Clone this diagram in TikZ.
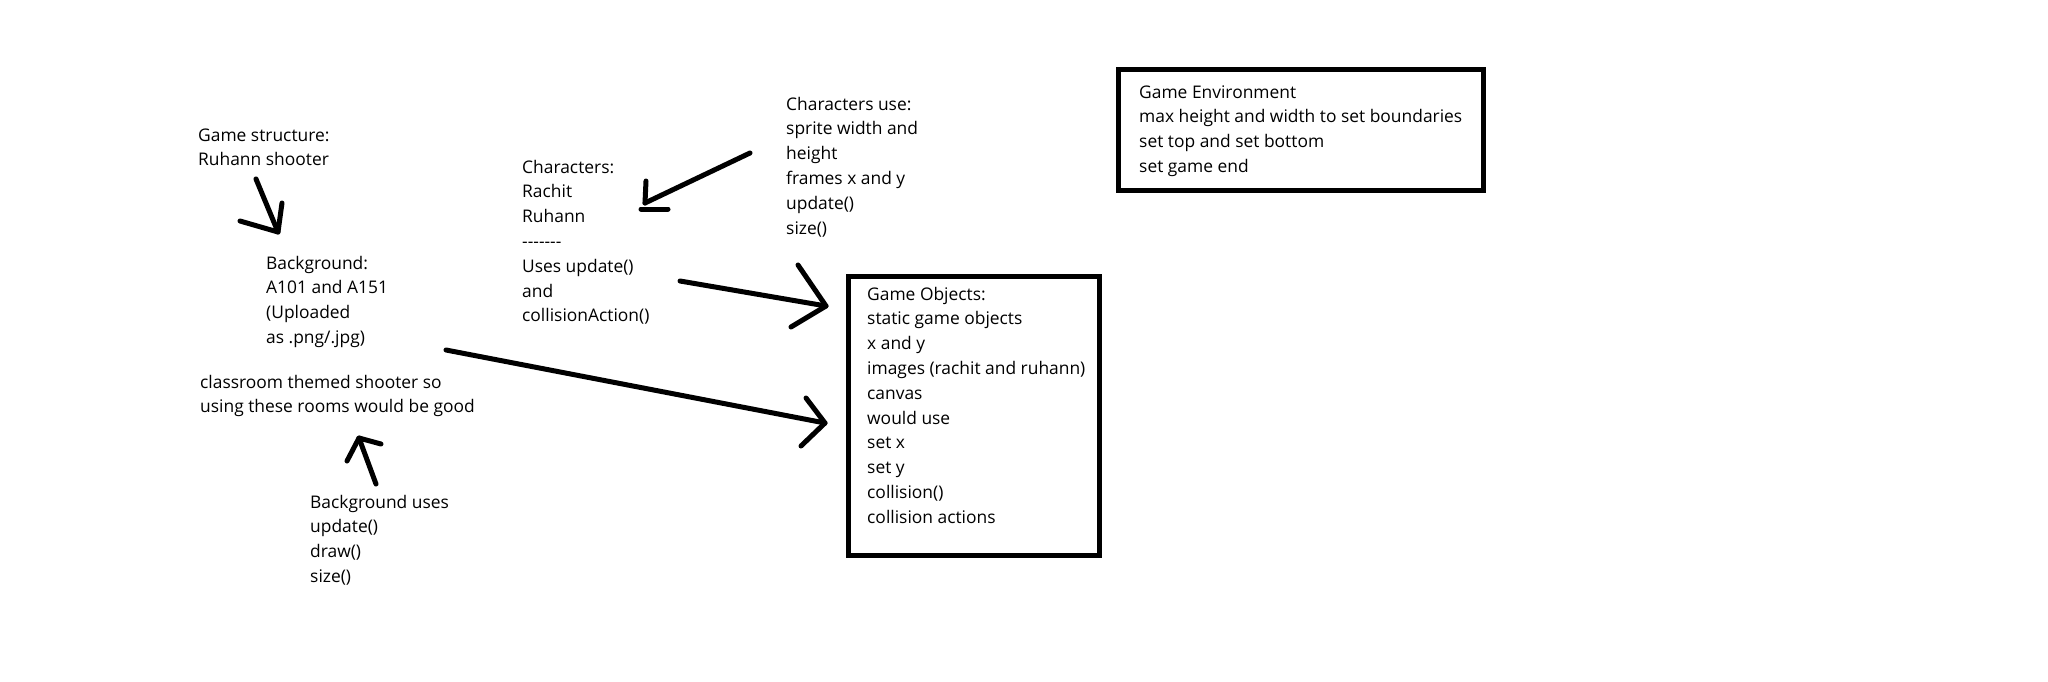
\documentclass[tikz,border=0pt]{standalone}
\usepackage{fontspec}
\setmainfont{Open Sans}[Ligatures=TeXOff]
\begin{document}
\begin{tikzpicture}[x=1pt,y=-1pt,
  txt/.style={anchor=base west, inner sep=0pt, align=left,
    font=\fontsize{17.4}{24.8}\selectfont},
  pen/.style={line width=5pt, line cap=round, line join=round, black},
  frame/.style={draw=black, line width=5pt, inner sep=0pt, fill=none}]
\useasboundingbox[fill=white] (0,0) rectangle (2048,682);

% boxes
\node[frame, minimum width=251pt, minimum height=279pt, anchor=north west] (gobox) at (846,274) {};
\node[frame, minimum width=365pt, minimum height=121pt, anchor=north west] (envbox) at (1116,67) {};

% texts (anchor = baseline of the last line)
\node[txt] (gs) at (198,165.8) {Game structure:\\Ruhann shooter};
\node[txt] (bg) at (266,343.4) {Background:\\A101 and A151\\(Uploaded\\as .png/.jpg)};
\node[txt] (cls) at (200,412.8) {classroom themed shooter so\\using these rooms would be good};
\node[txt] (bgu) at (310,582.4) {Background uses\\update()\\draw()\\size()};
\node[txt] (ch) at (522,321.8) {Characters:\\Rachit\\Ruhann\\-------\\Uses update()\\and\\collisionAction()};
\node[txt] (chu) at (786,234) {Characters use:\\sprite width and\\height\\frames x and y\\update()\\size()};
\node[txt] (go) at (867,523.2) {Game Objects:\\static game objects\\x and y\\images (rachit and ruhann)\\canvas\\would use\\set x\\set y\\collision()\\collision actions};
\node[txt] (env) at (1139,172.4) {Game Environment\\max height and width to set boundaries\\set top and set bottom\\set game end};

% arrow 1: game structure -> background
\coordinate (a1s) at (256,179);
\coordinate (a1t) at (278,232);
\coordinate (a1l) at (240,221);
\coordinate (a1r) at (282,203);
\draw[pen] (a1s) -- (a1t);
\draw[pen] (a1l) -- (a1t) -- (a1r);

% arrow 2: characters use -> characters
\coordinate (a2s) at (750,153);
\coordinate (a2t) at (645,203);
\coordinate (a2u) at (646,181);
\coordinate (a2b1) at (641,209);
\coordinate (a2b2) at (668,209);
\draw[pen] (a2s) -- (a2t);
\draw[pen] (a2u) -- (a2t);
\draw[pen] (a2b1) -- (a2b2);

% arrow 3: characters -> game objects
\coordinate (a3s) at (680,281);
\coordinate (a3t) at (826,306);
\coordinate (a3u) at (798,265);
\coordinate (a3d) at (791,327);
\draw[pen] (a3s) -- (a3t);
\draw[pen] (a3u) -- (a3t) -- (a3d);

% arrow 4: background -> game objects
\coordinate (a4s) at (446,350);
\coordinate (a4t) at (825,423);
\coordinate (a4u) at (806,398);
\coordinate (a4d) at (801,446);
\draw[pen] (a4s) -- (a4t);
\draw[pen] (a4u) -- (a4t) -- (a4d);

% arrow 5: background uses -> classroom
\coordinate (a5s) at (376,484);
\coordinate (a5t) at (359,438);
\coordinate (a5l) at (347,461);
\coordinate (a5r) at (381,444);
\draw[pen] (a5s) -- (a5t);
\draw[pen] (a5l) -- (a5t) -- (a5r);
\end{tikzpicture}
\end{document}
